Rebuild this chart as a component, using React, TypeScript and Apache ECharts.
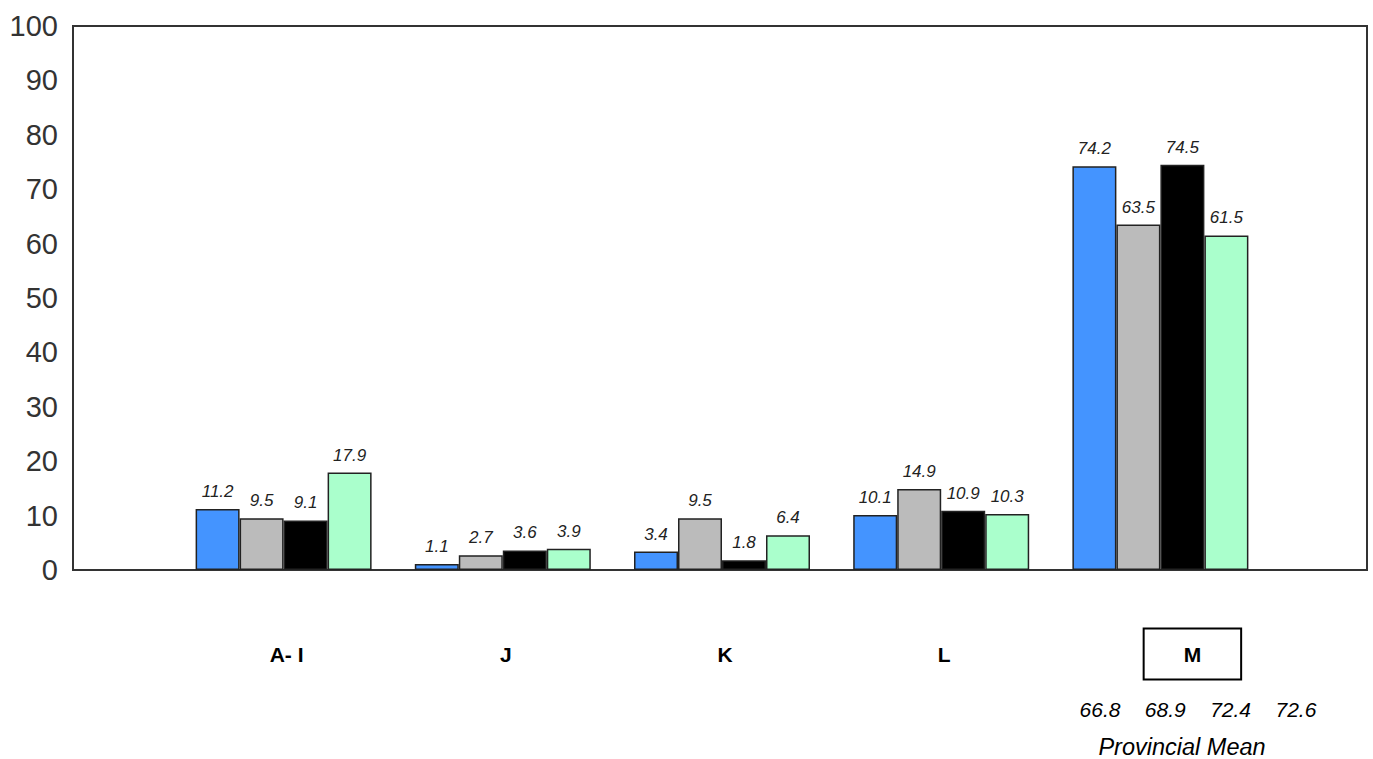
import React, { useEffect, useRef } from "react";
import * as echarts from "echarts";

const categories = ["A- I", "J", "K", "L", "M"];
const seriesNames = ["Series 1", "Series 2", "Series 3", "Series 4"];
const series1 = [11.2, 1.1, 3.4, 10.1, 74.2];
const series2 = [9.5, 2.7, 9.5, 14.9, 63.5];
const series3 = [9.1, 3.6, 1.8, 10.9, 74.5];
const series4 = [17.9, 3.9, 6.4, 10.3, 61.5];
const seriesColors = ["#4494FF", "#BBBBBB", "#000000", "#AAFFCC"];
const yMin = 0;
const yMax = 100;
const yInterval = 10;
const highlightedCategory = "M";
const provincialMeans = ["66.8", "68.9", "72.4", "72.6"];
const provincialLabel = "Provincial Mean";

const FONT = "Arial, 'Liberation Sans', sans-serif";

export default function App() {
  const ref = useRef<HTMLDivElement>(null);
  useEffect(() => {
    if (!ref.current) return;
    const chart = echarts.init(ref.current, undefined, { renderer: "svg" });
    const allSeries = [series1, series2, series3, series4];
    const meanStartX = 1100;
    const meanStep = 65.3;
    chart.setOption({
      animation: false,
      backgroundColor: "#ffffff",
      textStyle: { fontFamily: FONT },
      grid: [
        {
          left: 73,
          right: 6,
          top: 26,
          bottom: 189,
          show: true,
          borderColor: "#333333",
          borderWidth: 2,
          backgroundColor: "transparent",
        },
        { left: 174, width: 1096, top: 26, bottom: 189 },
      ],
      xAxis: [
        { gridIndex: 0, type: "category", data: [""], show: false },
        {
          gridIndex: 1,
          type: "category",
          data: categories,
          axisLine: { show: false },
          axisTick: { show: false },
          axisLabel: {
            interval: 0,
            margin: 84,
            verticalAlign: "middle",
            formatter: (v: string) =>
              v === highlightedCategory ? `{sp|}{box|${v}}` : `{sl|}{b|${v}}`,
            rich: {
              sl: { width: 6 },
              sp: { width: 64 },
              b: { fontSize: 21, fontWeight: "bold", color: "#000", fontFamily: FONT },
              box: {
                fontSize: 21,
                fontWeight: "bold",
                color: "#000",
                fontFamily: FONT,
                borderColor: "#000",
                borderWidth: 2,
                padding: [15, 40, 15, 40],
              },
            },
          },
        },
      ],
      yAxis: [
        {
          gridIndex: 0,
          type: "value",
          min: yMin,
          max: yMax,
          interval: yInterval,
          axisLine: { show: true, lineStyle: { color: "#333", width: 2 } },
          axisTick: { show: false },
          splitLine: { show: false },
          axisLabel: { fontSize: 29, color: "#333", margin: 15, fontFamily: FONT },
        },
        {
          gridIndex: 1,
          type: "value",
          min: yMin,
          max: yMax,
          interval: yInterval,
          show: false,
          splitLine: { show: false },
        },
      ],
      series: allSeries.map((data, i) => ({
        name: seriesNames[i],
        type: "bar",
        xAxisIndex: 1,
        yAxisIndex: 1,
        data,
        barWidth: 44,
        barGap: "0%",
        itemStyle: { color: seriesColors[i], borderColor: "#222", borderWidth: 1.5 },
        label: {
          show: true,
          position: "top",
          distance: 9,
          fontSize: 17,
          fontStyle: "italic",
          color: "#222",
          fontFamily: FONT,
        },
      })),
      graphic: [
        ...provincialMeans.map((m, i) => ({
          type: "text",
          x: meanStartX + i * meanStep,
          y: 709,
          style: {
            text: m,
            fontSize: 21,
            fontStyle: "italic",
            fontFamily: FONT,
            fill: "#000",
            align: "center",
            verticalAlign: "middle",
          },
        })),
        {
          type: "text",
          x: 1182,
          y: 747,
          style: {
            text: provincialLabel,
            fontSize: 23.5,
            fontStyle: "italic",
            fontFamily: FONT,
            fill: "#000",
            align: "center",
            verticalAlign: "middle",
          },
        },
      ],
    });
    return () => chart.dispose();
  }, []);
  return (
    <div
      ref={ref}
      style={{ position: "absolute", left: 0, top: 0, width: 1373, height: 759 }}
    />
  );
}
